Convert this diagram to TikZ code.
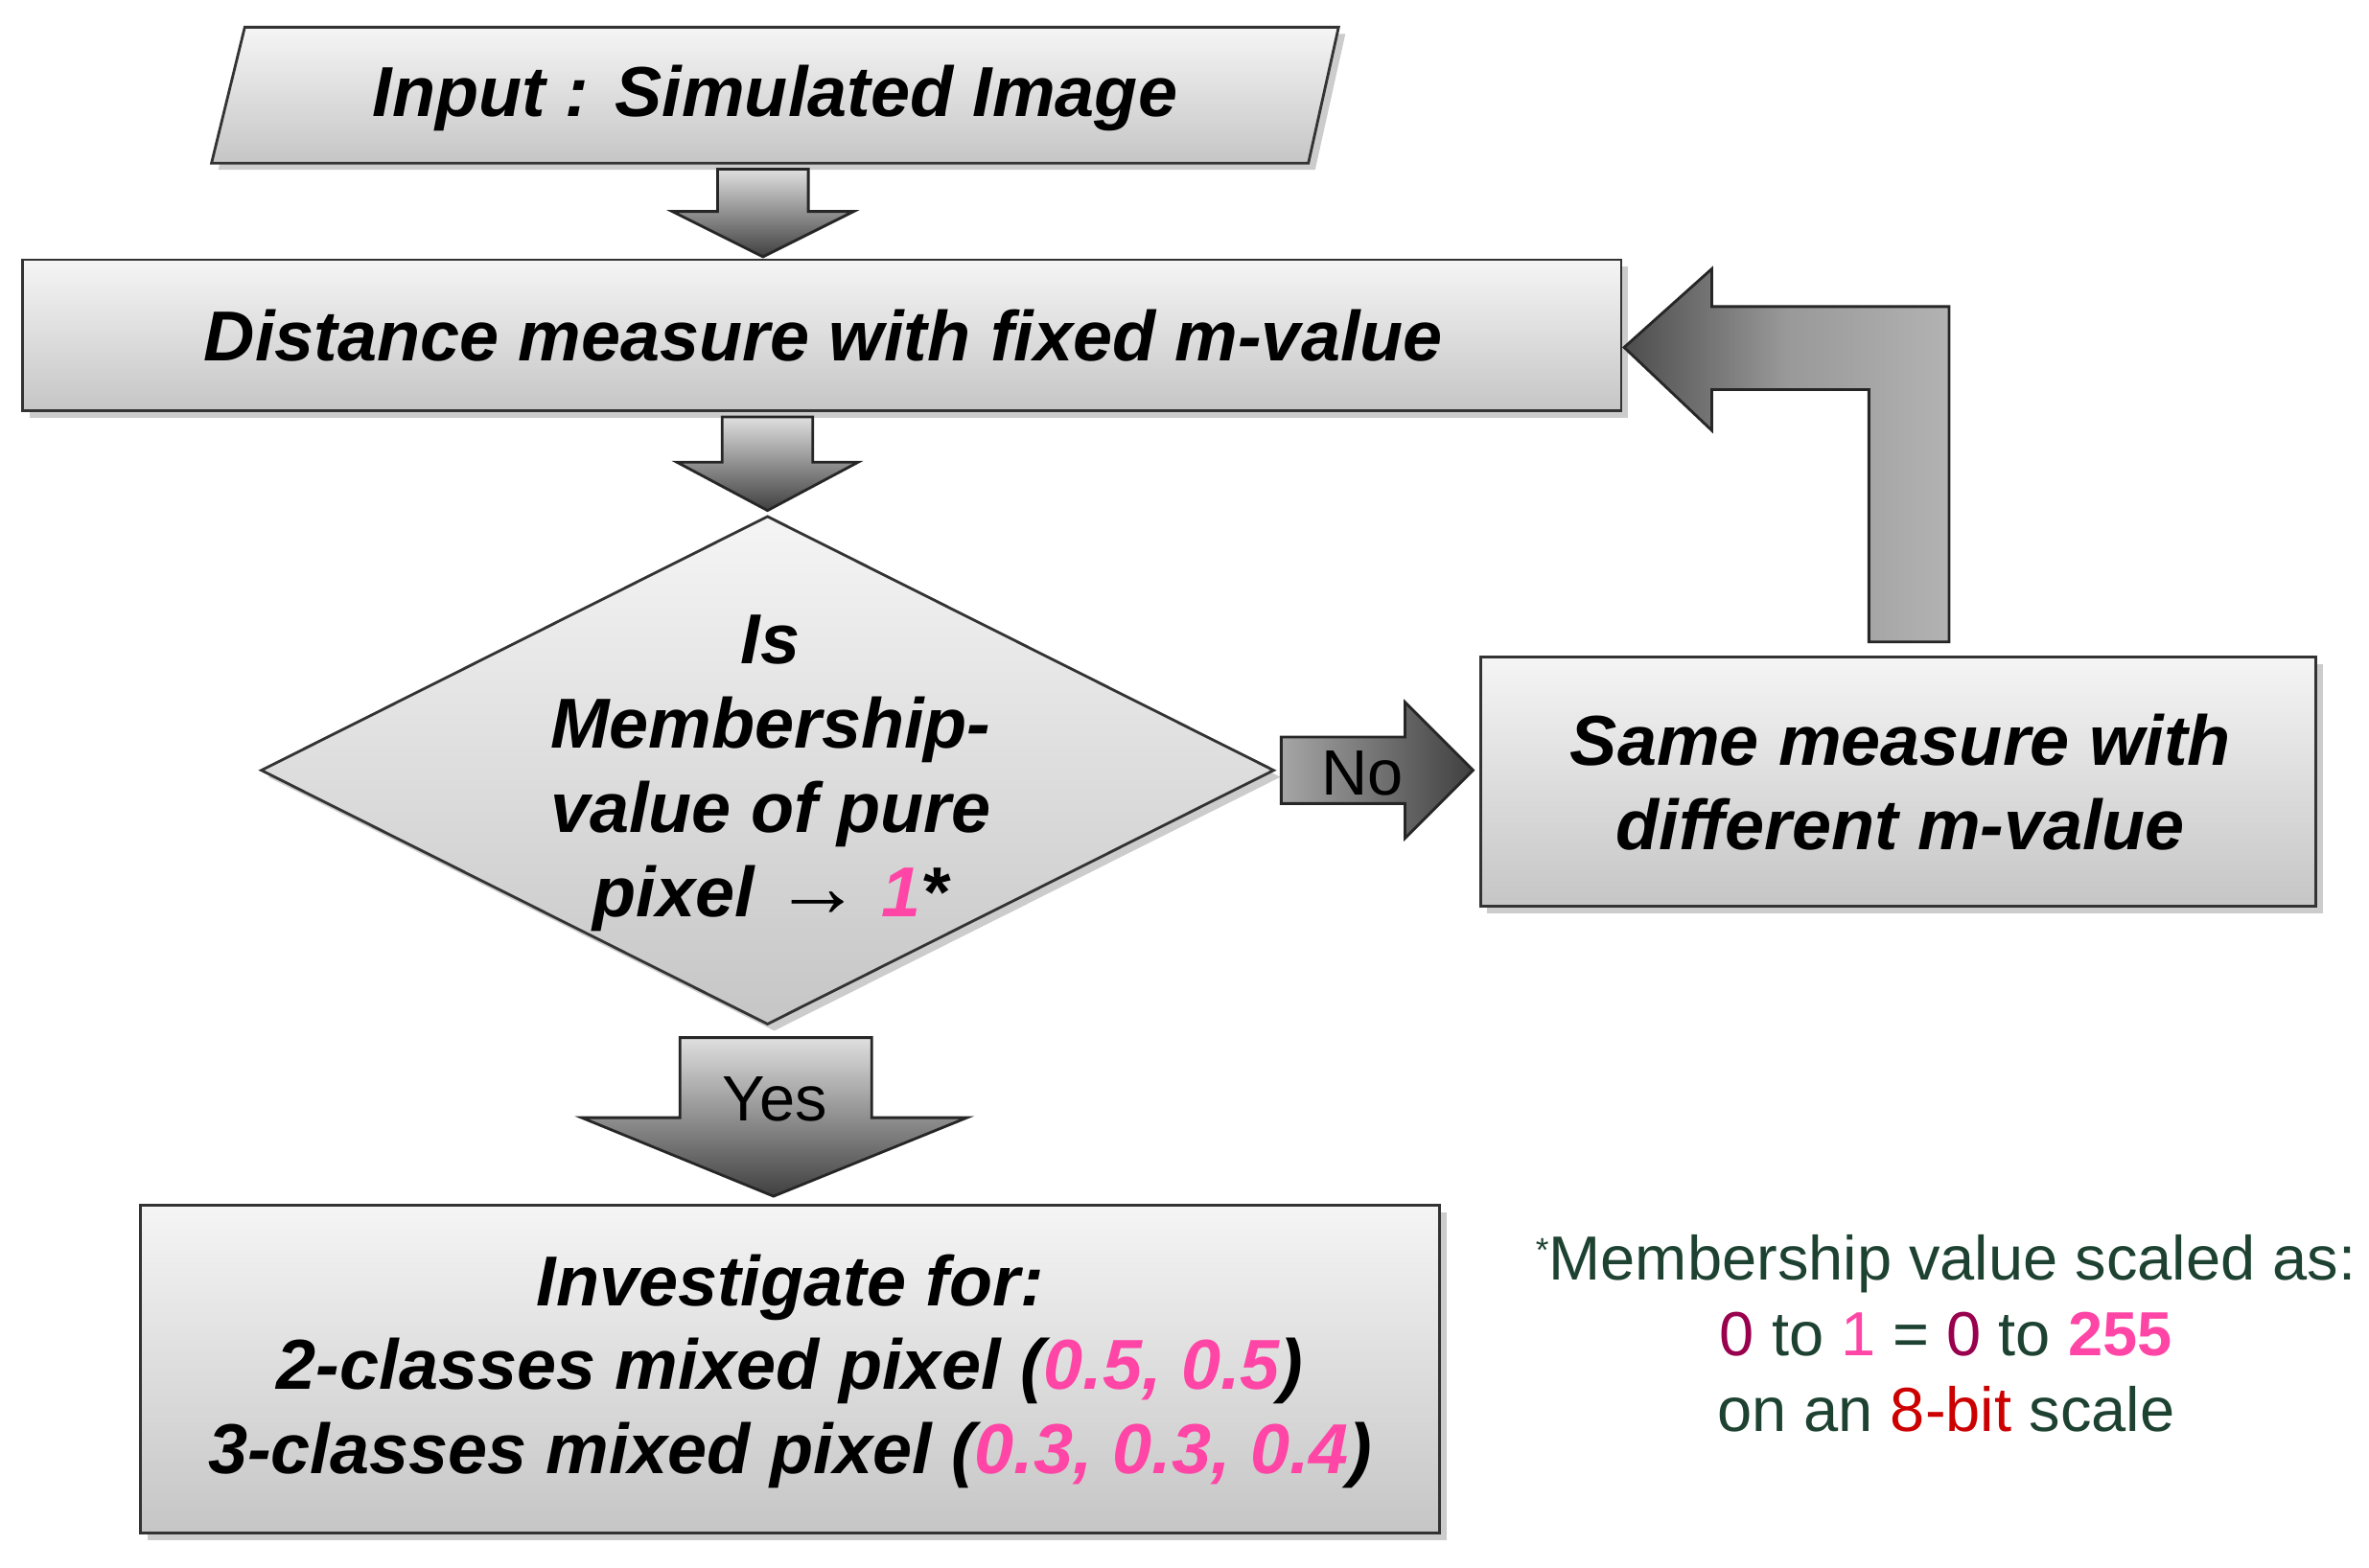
\documentclass[tikz,border=0pt]{standalone}
\usepackage{fontspec}
\setmainfont{Liberation Sans}
\usetikzlibrary{shapes.geometric,shadows}
\definecolor{pk}{HTML}{FF45A5}
\definecolor{dg}{HTML}{1E4232}
\definecolor{pu}{HTML}{99004D}
\definecolor{rd}{HTML}{CC0000}
\tikzset{
 box/.style={draw=black!80,line width=0.8pt,top color=gray!8,bottom color=gray!45,drop shadow={shadow xshift=2pt,shadow yshift=-2pt,opacity=0.4}},
 lbl/.style={font=\bfseries\itshape\fontsize{21}{25}\selectfont,align=center},
 barrow/.style={draw=black!85,line width=0.8pt,top color=gray!25,bottom color=black!75},
 harrow/.style={draw=black!85,line width=0.8pt,left color=gray!70,right color=black!75},
 varrow/.style={draw=black!85,line width=0.8pt,left color=black!70,right color=gray!60,middle color=black!40}
}
\begin{document}
\begin{tikzpicture}[x=0.01576cm,y=-0.01576cm]
\useasboundingbox[fill=white] (0,0) rectangle (1568,1038);
% input parallelogram
\path[box] (140,108) -- (162,18) -- (886,18) -- (866,108) -- cycle;
\node[lbl] (in) at (513,65) {Input : Simulated Image};
% arrow 1
\path[barrow] (475,112) -- (535,112) -- (535,140) -- (565,140) -- (505,170) -- (445,140) -- (475,140) -- cycle;
% distance box
\path[box] (15,172) rectangle (1073,272);
\node[lbl] (dist) at (545,222) {Distance measure with fixed m-value};
% arrow 2
\path[barrow] (478,276) -- (538,276) -- (538,306) -- (568,306) -- (508,338) -- (448,306) -- (478,306) -- cycle;
% diamond
\path[box] (508,342) -- (843,510) -- (508,678) -- (173,510) -- cycle;
\node[lbl] (dec) at (510,512) {Is\\Membership-\\value of pure\\pixel {\upshape\fontsize{26}{25}\selectfont→} \textcolor{pk}{1}*};
% No arrow
\path[harrow] (848,488) -- (930,488) -- (930,465) -- (975,510) -- (930,555) -- (930,532) -- (848,532) -- cycle;
\node[font=\fontsize{19}{22}\selectfont] (no) at (902,512) {No};
% same box
\path[box] (980,435) rectangle (1533,600);
\node[lbl] (same) at (1258,518) {Same measure with\\different m-value};
% loop arrow
\path[varrow] (1237,425) -- (1237,258) -- (1133,258) -- (1133,285) -- (1075,230) -- (1133,178) -- (1133,203) -- (1290,203) -- (1290,425) -- cycle;
% Yes arrow
\path[barrow] (450,687) -- (577,687) -- (577,740) -- (640,740) -- (512,792) -- (385,740) -- (450,740) -- cycle;
\node[font=\fontsize{19}{22}\selectfont] (yes) at (513,728) {Yes};
% investigate box
\path[box] (93,798) rectangle (953,1015);
\node[lbl] (inv) at (523,908) {Investigate for:\\2-classes mixed pixel (\textcolor{pk}{0.5, 0.5})\\3-classes mixed pixel (\textcolor{pk}{0.3, 0.3, 0.4})};
% note
\node[font=\fontsize{18.5}{22.4}\selectfont,text=dg,align=center,anchor=north] (note) at (1288,810) {{\fontsize{10}{10}\selectfont\raisebox{0.55em}{*}}Membership value scaled as:\\\textcolor{pu}{0} to \textcolor{pk}{1} = \textcolor{pu}{0} to \textcolor{pk}{\bfseries 255}\\on an \textcolor{rd}{8-bit} scale};
\end{tikzpicture}
\end{document}
